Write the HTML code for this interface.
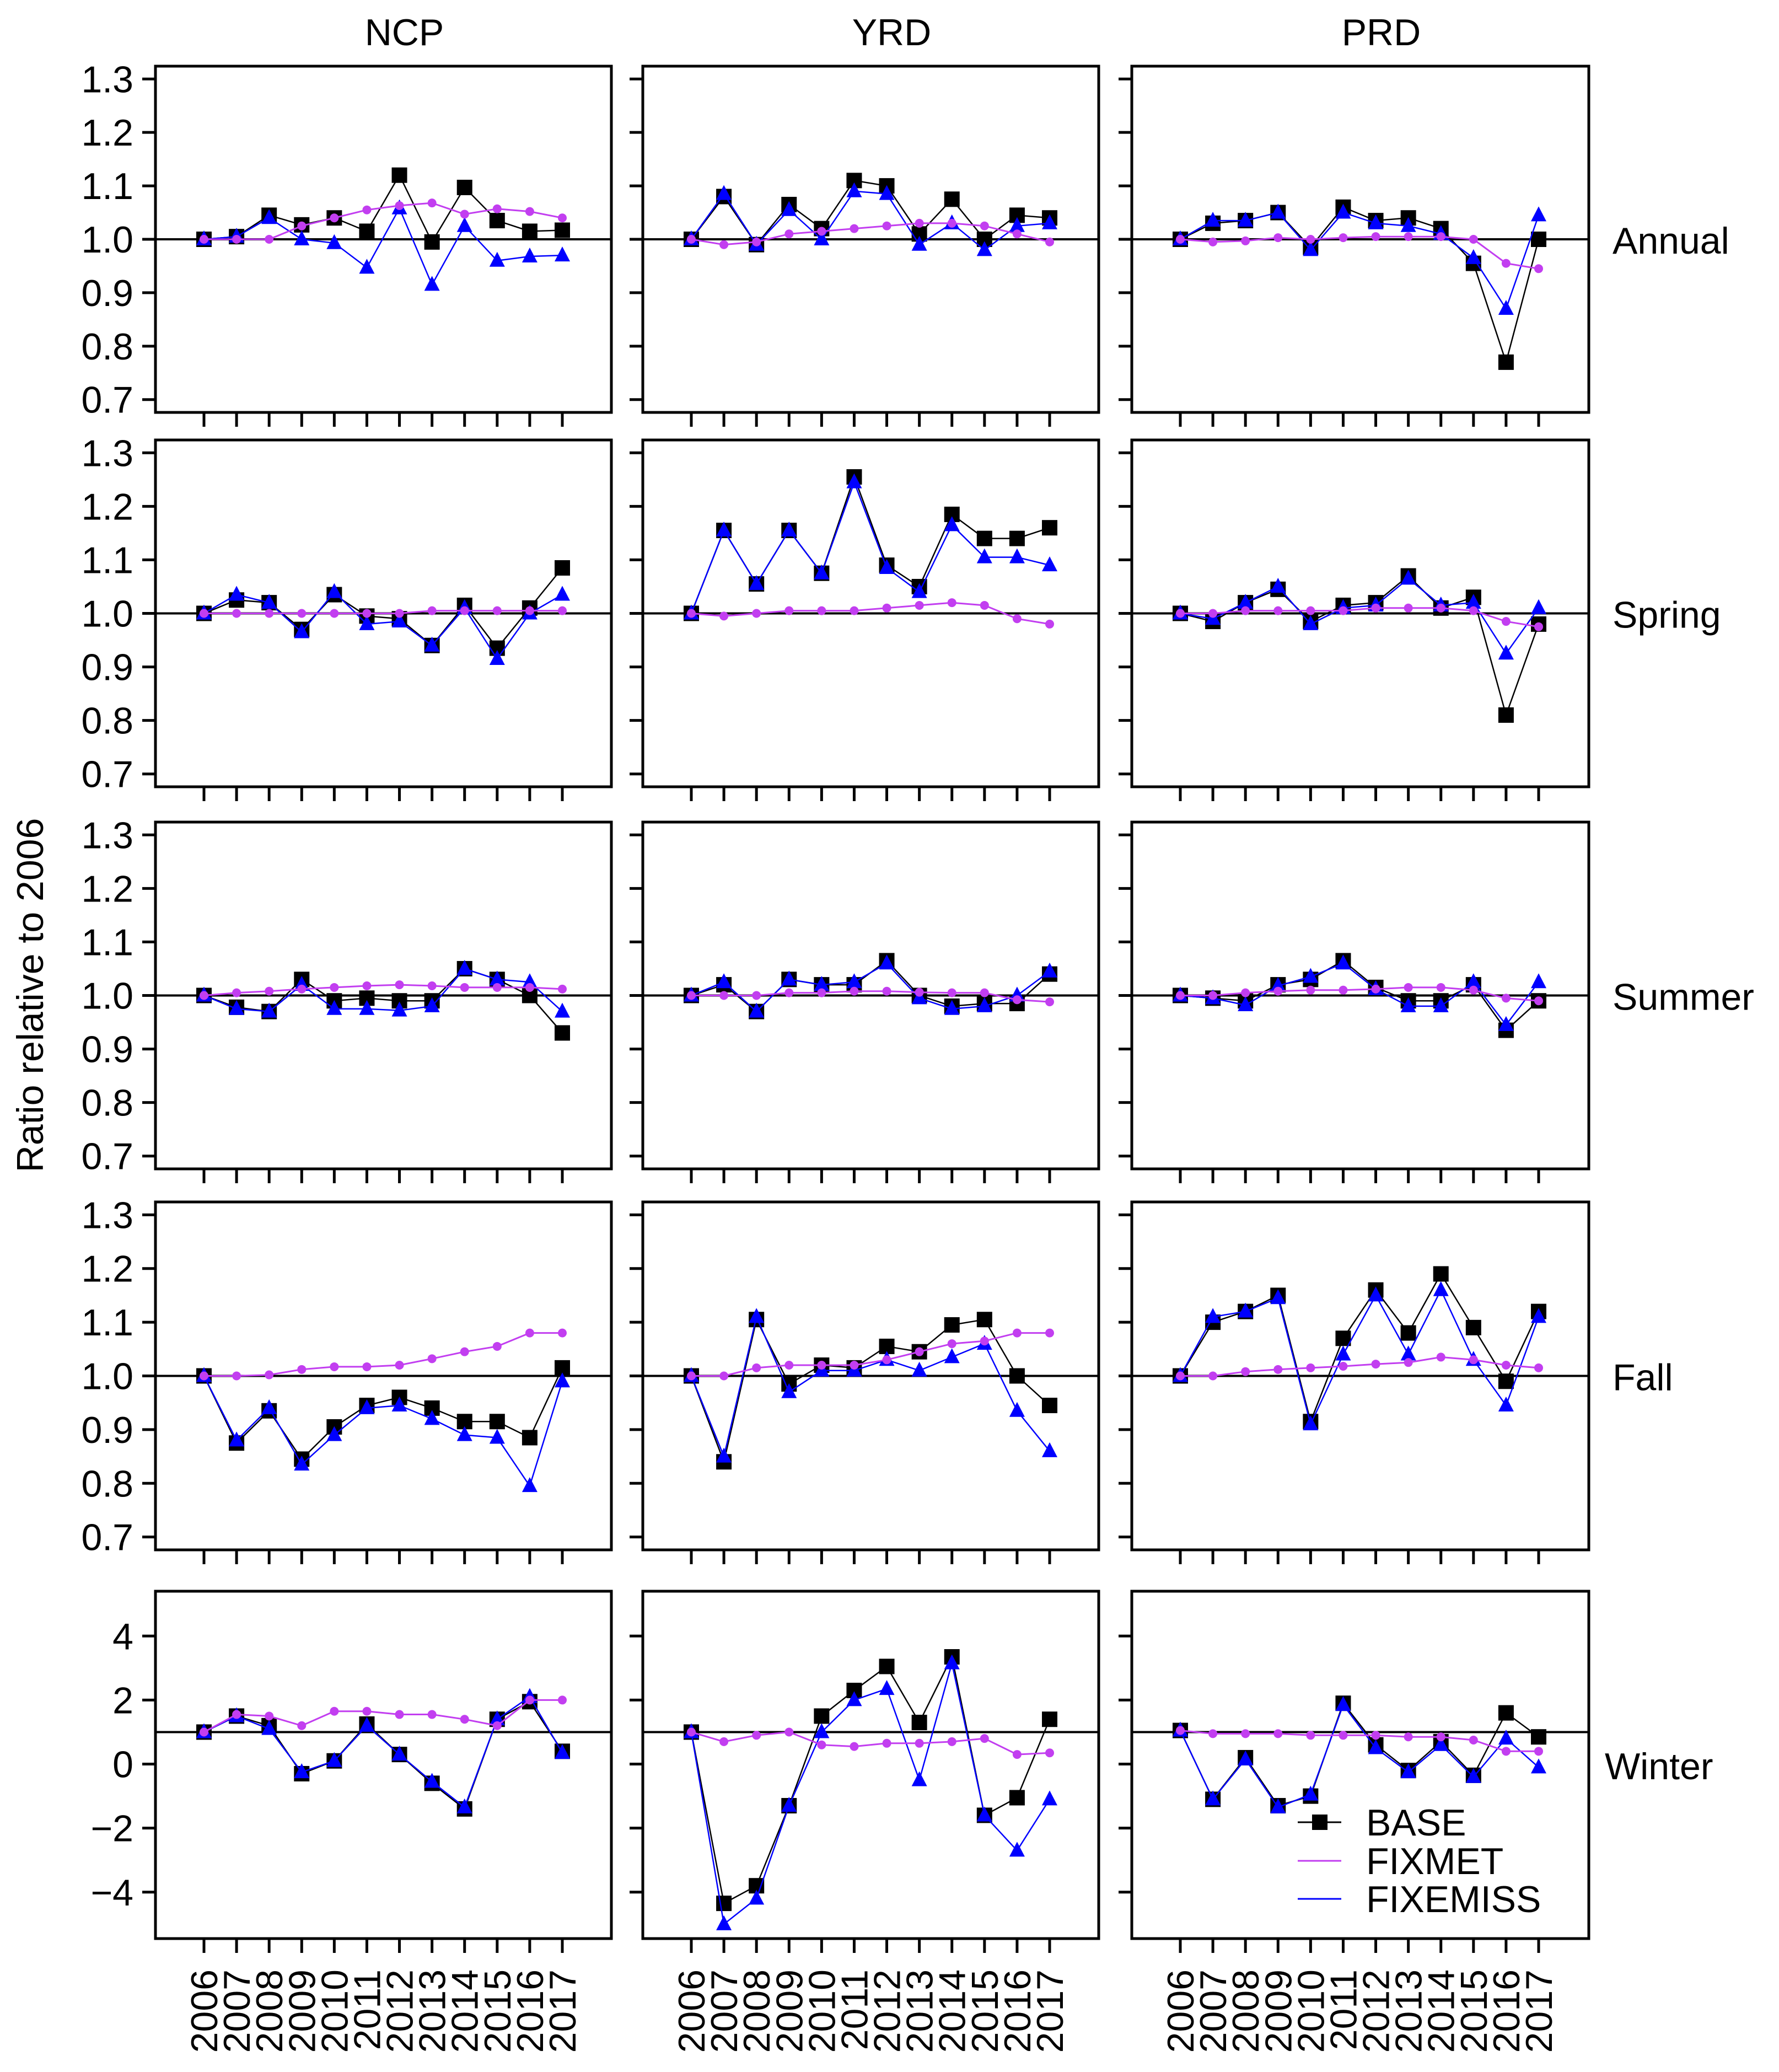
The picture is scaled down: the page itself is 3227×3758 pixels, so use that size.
<!DOCTYPE html>
<html><head><meta charset="utf-8"><style>
html,body{margin:0;padding:0;background:#fff}
svg{display:block}
text{font-family:"Liberation Sans",sans-serif;fill:#000}
</style></head><body>
<svg id="chart" width="3227" height="3758" viewBox="0 0 3227 3758" xmlns="http://www.w3.org/2000/svg"></svg>
<script>
const years = [2006,2007,2008,2009,2010,2011,2012,2013,2014,2015,2016,2017];
const regions = ["NCP","YRD","PRD"];
const seasons = ["Annual","Spring","Summer","Fall","Winter"];
const ratioTicks = [0.7,0.8,0.9,1.0,1.1,1.2,1.3];
const ratioTickLabels = ["0.7","0.8","0.9","1.0","1.1","1.2","1.3"];
const winterTicks = [-4,-2,0,2,4];
const winterTickLabels = ["\u22124","\u22122","0","2","4"];
// BASE
const baseAnnual = [[1.0,1.005,1.045,1.027,1.04,1.015,1.12,0.995,1.097,1.035,1.015,1.017],[1.0,1.08,0.99,1.065,1.02,1.11,1.10,1.01,1.075,1.0,1.045,1.04],[1.0,1.03,1.035,1.05,0.985,1.06,1.035,1.04,1.02,0.955,0.77,1.0]];
const baseSpring = [[1.0,1.025,1.02,0.97,1.035,0.995,0.99,0.94,1.015,0.935,1.01,1.085],[1.0,1.155,1.055,1.155,1.075,1.255,1.09,1.05,1.185,1.14,1.14,1.16],[1.0,0.985,1.02,1.045,0.985,1.015,1.02,1.07,1.01,1.03,0.81,0.98]];
const baseSummer = [[1.0,0.978,0.97,1.03,0.99,0.995,0.99,0.99,1.05,1.03,1.0,0.93],[1.0,1.02,0.97,1.03,1.02,1.02,1.065,1.0,0.98,0.985,0.985,1.04],[1.0,0.995,0.99,1.02,1.03,1.065,1.015,0.99,0.99,1.02,0.935,0.99]];
const baseFall = [[1.0,0.875,0.935,0.845,0.905,0.945,0.96,0.94,0.915,0.915,0.885,1.015],[1.0,0.84,1.105,0.985,1.02,1.015,1.055,1.045,1.095,1.105,1.0,0.945],[1.0,1.10,1.12,1.15,0.915,1.07,1.16,1.08,1.19,1.09,0.99,1.12]];
const baseWinter = [[1.0,1.5,1.2,-0.3,0.1,1.25,0.3,-0.6,-1.4,1.4,1.95,0.4],[1.0,-4.35,-3.8,-1.3,1.5,2.3,3.05,1.3,3.35,-1.6,-1.05,1.4],[1.05,-1.1,0.2,-1.3,-1.0,1.9,0.6,-0.2,0.7,-0.35,1.6,0.85]];
// FIXMET
const metAnnual = [[1.0,1.0,1.0,1.025,1.04,1.055,1.063,1.068,1.047,1.057,1.052,1.04],[1.0,0.99,0.995,1.01,1.015,1.02,1.025,1.03,1.03,1.025,1.01,0.995],[1.0,0.995,0.997,1.003,1.0,1.003,1.005,1.005,1.005,1.0,0.955,0.945]];
const metSpring = [[1.0,1.0,1.0,1.0,1.0,1.0,1.0,1.005,1.005,1.005,1.005,1.005],[1.0,0.995,1.0,1.005,1.005,1.005,1.01,1.015,1.02,1.015,0.99,0.98],[1.0,1.0,1.005,1.005,1.005,1.005,1.01,1.01,1.01,1.005,0.985,0.975]];
const metSummer = [[1.0,1.005,1.008,1.012,1.015,1.018,1.02,1.018,1.015,1.015,1.015,1.012],[1.0,1.0,1.0,1.005,1.005,1.008,1.008,1.006,1.005,1.005,0.992,0.988],[1.0,1.0,1.005,1.008,1.01,1.01,1.012,1.015,1.015,1.01,0.995,0.99]];
const metFall = [[1.0,1.0,1.002,1.012,1.017,1.017,1.02,1.032,1.045,1.055,1.08,1.08],[1.0,1.0,1.015,1.02,1.02,1.02,1.03,1.045,1.06,1.065,1.08,1.08],[1.0,1.0,1.008,1.012,1.015,1.018,1.022,1.025,1.035,1.03,1.02,1.015]];
const metWinter = [[1.0,1.55,1.5,1.2,1.65,1.65,1.55,1.55,1.4,1.2,2.0,2.0],[1.0,0.7,0.9,1.0,0.6,0.55,0.65,0.65,0.7,0.8,0.3,0.35],[1.05,0.95,0.95,0.95,0.9,0.9,0.9,0.85,0.85,0.75,0.4,0.4]];
// FIXEMISS
const emissAnnual = [[1.0,1.005,1.04,1.0,0.993,0.947,1.058,0.915,1.025,0.96,0.968,0.97],[1.0,1.085,0.99,1.055,1.0,1.09,1.085,0.99,1.03,0.98,1.025,1.03],[1.0,1.035,1.035,1.05,0.98,1.05,1.03,1.025,1.01,0.965,0.87,1.045]];
const emissSpring = [[1.0,1.035,1.02,0.965,1.04,0.98,0.985,0.94,1.01,0.915,1.0,1.035],[1.0,1.155,1.055,1.155,1.075,1.245,1.085,1.04,1.165,1.105,1.105,1.09],[1.0,0.99,1.02,1.05,0.98,1.01,1.015,1.065,1.015,1.02,0.925,1.01]];
const emissSummer = [[1.0,0.975,0.97,1.02,0.975,0.975,0.972,0.98,1.05,1.03,1.025,0.97],[1.0,1.025,0.97,1.03,1.02,1.025,1.06,0.995,0.975,0.98,1.0,1.045],[1.0,0.995,0.982,1.018,1.035,1.06,1.012,0.98,0.98,1.025,0.945,1.025]];
const emissFall = [[1.0,0.88,0.94,0.835,0.89,0.94,0.945,0.92,0.89,0.885,0.795,0.99],[1.0,0.85,1.11,0.97,1.01,1.01,1.03,1.01,1.035,1.06,0.935,0.86],[1.0,1.11,1.12,1.145,0.91,1.04,1.15,1.04,1.16,1.03,0.945,1.11]];
const emissWinter = [[1.0,1.5,1.1,-0.25,0.1,1.2,0.3,-0.55,-1.35,1.4,2.1,0.35],[1.0,-5.0,-4.2,-1.3,1.0,2.0,2.35,-0.5,3.15,-1.6,-2.7,-1.1],[1.05,-1.1,0.15,-1.35,-0.95,1.85,0.5,-0.25,0.6,-0.4,0.8,-0.1]];

const baseAll=[baseAnnual,baseSpring,baseSummer,baseFall,baseWinter];
const metAll=[metAnnual,metSpring,metSummer,metFall,metWinter];
const emissAll=[emissAnnual,emissSpring,emissSummer,emissFall,emissWinter];

const NS="http://www.w3.org/2000/svg";
const svg=document.getElementById('chart');
function mk(tag,attrs,parent){const e=document.createElementNS(NS,tag);for(const k in attrs)e.setAttribute(k,attrs[k]);(parent||svg).appendChild(e);return e;}

const colX=[[282,1109],[1166,1993],[2053,2882]];
const rowY=[[120,748],[798,1427],[1491,2120],[2180,2811],[2886,3516]];
const MET="#c23ef0", EMISS="#0000ff";

rowY.forEach((ry,r)=>{
  const winter = r===4;
  const dom = winter?[-5.45,5.4]:[0.676,1.324];
  const ticks = winter?winterTicks:ratioTicks;
  const tickLabels = winter?winterTickLabels:ratioTickLabels;
  colX.forEach((cx,c)=>{
    const [x0,x1]=cx,[y0,y1]=ry;
    const g=mk('g',{});
    
    
    const xs=i=>x0+88+i*(650/11);
    const ys=v=>y1-(v-dom[0])/(dom[1]-dom[0])*(y1-y0);
    const fr=mk('rect',{x:x0,y:y0,width:x1-x0,height:y1-y0,fill:'none',stroke:'#000','stroke-width':5},g);
    
    
    ticks.forEach((t,i)=>{
      const yy=ys(t);
      const tk=mk('line',{x1:x0-24,x2:x0,y1:yy,y2:yy,stroke:'#000','stroke-width':5},g);
      
      
      if(c===0){
        const tl=mk('text',{x:x0-40,y:yy+24,'font-size':68,'text-anchor':'end'},g);
        tl.textContent=tickLabels[i];
        
        
      }
    });
    years.forEach((yr,i)=>{
      const tk=mk('line',{x1:xs(i),x2:xs(i),y1:y1,y2:y1+26,stroke:'#000','stroke-width':5},g);
      
      
      if(r===4){
        const tl=mk('text',{x:0,y:0,'font-size':68,'text-anchor':'end',transform:`translate(${xs(i)+24},3572) rotate(-90)`},g);
        tl.textContent=yr;
        
        
      }
    });
    const h=mk('line',{x1:x0,x2:x1,y1:ys(1),y2:ys(1),stroke:'#000','stroke-width':4},g);
    
    
    const b=baseAll[r][c], m=metAll[r][c], e=emissAll[r][c];
    const pts=a=>a.map((v,i)=>xs(i).toFixed(1)+','+ys(v).toFixed(1)).join(' ');
    const bl=mk('polyline',{points:pts(b),fill:'none',stroke:'#000','stroke-width':2.5},g);
    
    
    b.forEach((v,i)=>{const s=mk('rect',{x:xs(i)-14,y:ys(v)-14,width:28,height:28,fill:'#000'},g);
      
      });
    const el=mk('polyline',{points:pts(e),fill:'none',stroke:EMISS,'stroke-width':2.5},g);
    
    
    e.forEach((v,i)=>{const X=xs(i),Y=ys(v);const t=mk('polygon',{points:`${X},${Y-16} ${X-14},${Y+11} ${X+14},${Y+11}`,fill:EMISS},g);
      
      });
    const ml=mk('polyline',{points:pts(m),fill:'none',stroke:MET,'stroke-width':3},g);
    
    
    m.forEach((v,i)=>{const d=mk('circle',{cx:xs(i),cy:ys(v),r:8,fill:MET},g);
      
      });
    if(r===0){
      const t=mk('text',{x:(x0+x1)/2+38,y:82,'font-size':68,'text-anchor':'middle'});
      t.textContent=regions[c];
      
      
    }
  });
  const rl=mk('text',{x:r===4?2911:2925,y:(ry[0]+ry[1])/2+2+24,'font-size':68});
  rl.textContent=seasons[r];
  
  
});
const yl=mk('text',{x:0,y:0,'font-size':68,'text-anchor':'middle',transform:'translate(78,1805) rotate(-90)'});
yl.textContent='Ratio relative to 2006';



const lg=mk('g',{});


const legNames=["BASE","FIXMET","FIXEMISS"], legCols=["#000",MET,EMISS], legY=[3305,3375,3444];
legNames.forEach((n,i)=>{
  const ln=mk('line',{x1:2354,x2:2433,y1:legY[i],y2:legY[i],stroke:legCols[i],'stroke-width':3},lg);
  
  
  if(i===0){const s=mk('rect',{x:2380,y:legY[i]-14,width:28,height:28,fill:'#000'},lg);
    
    }
  const t=mk('text',{x:2478,y:legY[i]+24,'font-size':68},lg);
  t.textContent=n;
  
  
});
</script>
</body></html>
